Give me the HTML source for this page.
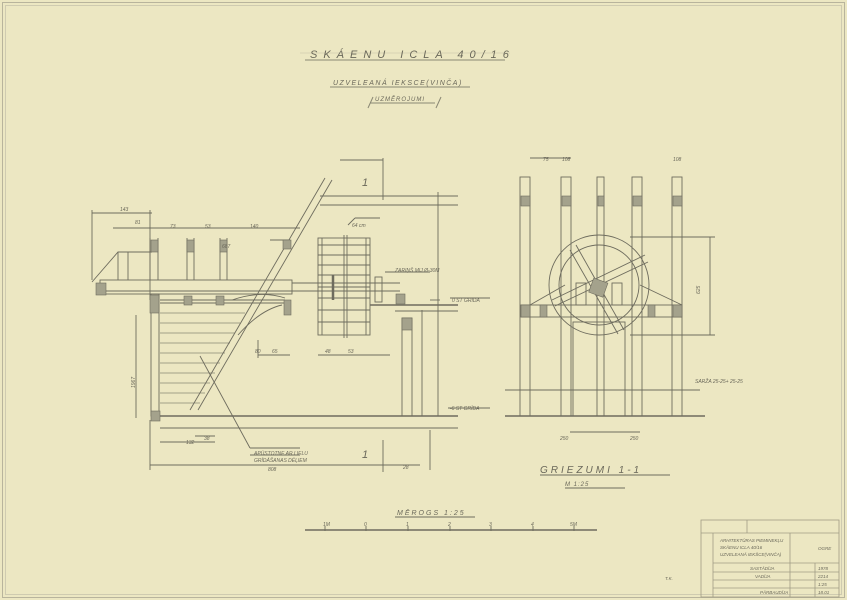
<!DOCTYPE html>
<html><head><meta charset="utf-8"><style>
html,body{margin:0;padding:0;background:#ece7c2;}
svg{display:block;}
text{font-family:"Liberation Sans",sans-serif;font-style:italic;fill:#6a685a;}
</style></head><body>
<svg width="847" height="600" viewBox="0 0 847 600" xmlns="http://www.w3.org/2000/svg">
<rect width="847" height="600" fill="#ece7c2"/>
<g stroke="#b8b49c" fill="none" stroke-width="1">
<rect x="2.5" y="2.5" width="842" height="595"/>
<rect x="5.5" y="5.5" width="836" height="589" stroke="#cfcbb0"/>
</g>
<g stroke="#8a8874" stroke-width="1">
<line x1="305" y1="60" x2="505" y2="60"/>
<line x1="300" y1="53" x2="510" y2="53" stroke="#d8d3b4"/>
<line x1="330" y1="87" x2="470" y2="87"/>
<line x1="370" y1="103" x2="435" y2="103"/>
<line x1="368" y1="108" x2="373" y2="97"/><line x1="436" y1="108" x2="441" y2="97"/>
</g>
<text x="310" y="58" font-size="11" letter-spacing="6">SKÁENU ICLA 40/16</text>
<text x="333" y="85" font-size="7" letter-spacing="1.5">UZVELEANÁ IEKSCE(VINČA)</text>
<text x="375" y="101" font-size="6" letter-spacing="1">UZMĚROJUMI</text>

<g stroke="#6e6c5e" stroke-width="0.9" fill="none">
<line x1="383" y1="158" x2="383" y2="200"/><line x1="383" y1="440" x2="383" y2="472"/>
<line x1="340" y1="160" x2="383" y2="160"/>
<line x1="320" y1="196" x2="458" y2="196"/><line x1="320" y1="205" x2="458" y2="205"/>
<rect x="100" y="280" width="192" height="14"/>
<line x1="100" y1="291" x2="292" y2="291"/>
<path d="M92 282 L118 252 L152 252"/>
<line x1="118" y1="252" x2="118" y2="280"/><line x1="128" y1="252" x2="128" y2="280"/>
<line x1="150" y1="238" x2="150" y2="280"/><line x1="158" y1="238" x2="158" y2="280"/>
<line x1="187" y1="238" x2="187" y2="280"/><line x1="194" y1="238" x2="194" y2="280"/>
<line x1="220" y1="238" x2="220" y2="280"/><line x1="227" y1="238" x2="227" y2="280"/>
<rect x="151" y="294" width="8" height="122"/>
<line x1="160" y1="300" x2="285" y2="300"/>
<line x1="160" y1="303" x2="285" y2="303"/>
<g stroke="#8a8874" stroke-width="0.8">
<line x1="160" y1="313" x2="245" y2="313"/><line x1="160" y1="323" x2="240" y2="323"/>
<line x1="160" y1="333" x2="235" y2="333"/><line x1="160" y1="343" x2="230" y2="343"/>
<line x1="160" y1="353" x2="225" y2="353"/><line x1="160" y1="363" x2="220" y2="363"/>
<line x1="160" y1="373" x2="215" y2="373"/><line x1="160" y1="383" x2="210" y2="383"/>
<line x1="160" y1="393" x2="205" y2="393"/><line x1="160" y1="403" x2="200" y2="403"/>
</g>
<line x1="190" y1="410" x2="325" y2="178"/><line x1="198" y1="410" x2="332" y2="180"/>
<line x1="270" y1="240" x2="290" y2="240"/>
<path d="M232 300 Q260 290 285 298"/><path d="M238 335 Q260 310 282 305"/>
<line x1="160" y1="416" x2="458" y2="416" stroke-width="1.6"/>
<line x1="160" y1="428" x2="458" y2="428"/>
<line x1="292" y1="283" x2="400" y2="283"/><line x1="292" y1="291" x2="400" y2="291"/>
<rect x="318" y="238" width="52" height="97"/>
<line x1="322" y1="238" x2="322" y2="335"/><line x1="344" y1="235" x2="344" y2="338"/>
<line x1="347" y1="235" x2="347" y2="338"/><line x1="366" y1="238" x2="366" y2="335"/>
<line x1="318" y1="245" x2="370" y2="245"/><line x1="318" y1="255" x2="370" y2="255"/>
<line x1="318" y1="265" x2="370" y2="265"/><line x1="318" y1="275" x2="370" y2="275"/>
<line x1="318" y1="287" x2="370" y2="287"/><line x1="318" y1="298" x2="370" y2="298"/>
<line x1="318" y1="310" x2="370" y2="310"/><line x1="318" y1="322" x2="370" y2="322"/>
<line x1="333" y1="275" x2="333" y2="300" stroke-width="2.5"/>
<rect x="375" y="277" width="7" height="25"/>
<line x1="370" y1="305" x2="458" y2="305" stroke-width="1.4"/>
<line x1="395" y1="311" x2="458" y2="311"/>
<rect x="402" y="318" width="10" height="98"/>
<line x1="438" y1="192" x2="438" y2="416"/>
<line x1="430" y1="300" x2="440" y2="300"/>
<line x1="92" y1="213" x2="152" y2="213"/><line x1="113" y1="228" x2="300" y2="228"/>
<line x1="92" y1="210" x2="92" y2="280"/>
<line x1="150" y1="210" x2="150" y2="300"/>
<line x1="136" y1="315" x2="136" y2="418"/>
<line x1="150" y1="465" x2="420" y2="465"/><line x1="150" y1="420" x2="150" y2="470"/>
<line x1="160" y1="442" x2="215" y2="442"/><line x1="195" y1="436" x2="215" y2="436"/>
<line x1="200" y1="356" x2="250" y2="448"/>
<line x1="250" y1="448" x2="300" y2="448"/><line x1="250" y1="455" x2="300" y2="455"/>
<line x1="258" y1="355" x2="290" y2="355"/><line x1="258" y1="340" x2="258" y2="358"/>
<line x1="318" y1="355" x2="390" y2="355"/>
<line x1="422" y1="310" x2="422" y2="416"/><line x1="430" y1="430" x2="430" y2="470"/>
<line x1="450" y1="298" x2="490" y2="298"/><line x1="448" y1="408" x2="490" y2="408"/>
<line x1="385" y1="272" x2="430" y2="272"/>
<line x1="348" y1="225" x2="355" y2="218"/><line x1="355" y1="218" x2="380" y2="218"/>
</g>
<g fill="#a4a28c" stroke="#6e6c5e" stroke-width="0.6">
<rect x="96" y="283" width="10" height="12"/><rect x="150" y="295" width="9" height="18"/>
<rect x="151" y="240" width="7" height="12"/><rect x="187" y="240" width="7" height="12"/>
<rect x="220" y="240" width="7" height="12"/>
<rect x="184" y="296" width="8" height="9"/><rect x="216" y="296" width="8" height="9"/>
<rect x="283" y="240" width="8" height="9"/><rect x="284" y="300" width="7" height="15"/>
<rect x="396" y="294" width="9" height="10"/><rect x="402" y="318" width="10" height="12"/>
<rect x="151" y="411" width="9" height="10"/>
</g>
<g font-size="5">
<text x="120" y="211">143</text><text x="135" y="224">81</text>
<text x="170" y="228">73</text><text x="205" y="228">53</text><text x="250" y="228">140</text>
<text x="222" y="248">687</text><text x="102" y="365" transform="rotate(-90 130 360)">1967</text>
<text x="255" y="353">80</text><text x="272" y="353">65</text><text x="325" y="353">48</text><text x="348" y="353">53</text>
<text x="186" y="444">132</text><text x="204" y="440">38</text>
<text x="254" y="455">APŪSTOTNE AR LIELU</text><text x="254" y="462">GRĪDĀŠANAS DĒĻIEM</text>
<text x="268" y="471">808</text><text x="403" y="469">28</text>
<text x="352" y="227">64 cm</text><text x="395" y="272">ZARIŅŠ MIJ Ø-30M</text>
<text x="452" y="302">0 ST GRĪDA</text><text x="450" y="410">-6 ST GRĪDA</text>
</g>
<text x="362" y="186" font-size="11">1</text><text x="362" y="458" font-size="11">1</text>

<g stroke="#6e6c5e" stroke-width="0.9" fill="none">
<rect x="520" y="177" width="10" height="239"/><rect x="561" y="177" width="10" height="239"/>
<rect x="597" y="177" width="7" height="239"/><rect x="632" y="177" width="10" height="239"/>
<rect x="672" y="177" width="10" height="239"/>
<line x1="505" y1="416" x2="705" y2="416" stroke-width="1.6"/>
<circle cx="599" cy="285" r="50"/><circle cx="599" cy="285" r="40"/>
<rect x="521" y="305" width="161" height="12"/>
<line x1="576" y1="245" x2="624" y2="330"/><line x1="570" y1="250" x2="618" y2="334"/>
<line x1="552" y1="300" x2="645" y2="255"/><line x1="555" y1="306" x2="648" y2="262"/>
<path d="M530 305 L565 285"/><path d="M682 305 L640 285"/>
<rect x="576" y="283" width="10" height="22"/><rect x="612" y="283" width="10" height="22"/>
<rect x="573" y="322" width="52" height="94"/>
<line x1="505" y1="390" x2="700" y2="390"/>
<line x1="530" y1="158" x2="571" y2="158"/><line x1="630" y1="237" x2="715" y2="237"/>
<line x1="710" y1="237" x2="710" y2="335"/><line x1="630" y1="335" x2="715" y2="335"/>
<line x1="570" y1="432" x2="640" y2="432"/>
<line x1="540" y1="475" x2="670" y2="475"/><line x1="565" y1="488" x2="625" y2="488"/>
</g>
<g fill="#a4a28c" stroke="#6e6c5e" stroke-width="0.6">
<rect x="521" y="196" width="9" height="10"/><rect x="562" y="196" width="9" height="10"/>
<rect x="598" y="196" width="6" height="10"/><rect x="633" y="196" width="9" height="10"/>
<rect x="673" y="196" width="9" height="10"/>
<rect x="521" y="305" width="9" height="12"/><rect x="540" y="305" width="7" height="12"/>
<rect x="648" y="305" width="7" height="12"/><rect x="673" y="305" width="9" height="12"/>
<rect x="591" y="280" width="15" height="15" transform="rotate(20 598 287)"/>
</g>
<g font-size="5">
<text x="543" y="161">75</text><text x="562" y="161">108</text><text x="673" y="161">108</text>
<text x="694" y="292" transform="rotate(-90 698 290)">625</text>
<text x="695" y="383">SARŽA 25-25+ 25-25</text>
<text x="560" y="440">250</text><text x="630" y="440">250</text>
</g>
<text x="540" y="473" font-size="10" letter-spacing="3">GRIEZUMI 1-1</text>
<text x="565" y="486" font-size="6" letter-spacing="1">M 1:25</text>

<g stroke="#6e6c5e" stroke-width="0.9">
<line x1="395" y1="517" x2="475" y2="517"/>
<line x1="305" y1="530" x2="597" y2="530" stroke-width="1.4"/>
<line x1="325" y1="526" x2="325" y2="531"/><line x1="366" y1="526" x2="366" y2="531"/>
<line x1="408" y1="526" x2="408" y2="531"/><line x1="450" y1="526" x2="450" y2="531"/>
<line x1="491" y1="526" x2="491" y2="531"/><line x1="533" y1="526" x2="533" y2="531"/>
<line x1="574" y1="526" x2="574" y2="531"/>
</g>
<text x="397" y="515" font-size="7" letter-spacing="2">MĒROGS 1:25</text>
<g font-size="5"><text x="323" y="526">1M</text><text x="364" y="526">0</text><text x="406" y="526">1</text>
<text x="448" y="526">2</text><text x="489" y="526">3</text><text x="531" y="526">4</text><text x="570" y="526">5M</text></g>

<g stroke="#a09c84" stroke-width="0.8" fill="none">
<rect x="701" y="520" width="138" height="77"/>
<line x1="701" y1="533" x2="839" y2="533"/><line x1="713" y1="533" x2="713" y2="597"/>
<line x1="747" y1="520" x2="747" y2="533"/>
<line x1="713" y1="563" x2="839" y2="563"/><line x1="790" y1="533" x2="790" y2="597"/>
<line x1="815" y1="563" x2="815" y2="597"/><line x1="713" y1="572" x2="839" y2="572"/>
<line x1="713" y1="580" x2="839" y2="580"/><line x1="713" y1="588" x2="839" y2="588"/>
</g>
<g font-size="4.5" fill="#8a8874">
<text x="720" y="542">ARHITEKTŪRAS PIEMINEKĻU</text><text x="720" y="549">SKĀENU ICLA 40/16</text>
<text x="720" y="556">UZVELEANĀ IEKŠCE(VINČA)</text><text x="818" y="550">OGRE</text>
<text x="750" y="570">SASTĀDĪJA</text><text x="818" y="570">1978</text>
<text x="755" y="578">VADĪJA</text><text x="818" y="578">2214</text>
<text x="818" y="586">1:25</text><text x="760" y="594">PĀRBAUDĪJA</text><text x="818" y="594">18.01</text>
<text x="665" y="580">T.K.</text>
</g>
</svg>
</body></html>
